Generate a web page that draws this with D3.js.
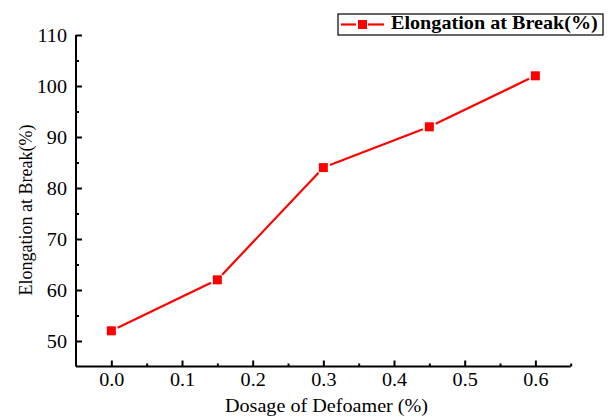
<!DOCTYPE html>
<html lang="en">
<head>
<meta charset="UTF-8">
<title>Elongation at Break</title>
<script src="https://d3js.org/d3.v7.min.js"></script>
<style>
    body { margin: 0; background: #fff; }
</style>
</head>
<body>
<div id="chart"></div>
<script>
    // data
    const dosage = [0.0, 0.15, 0.3, 0.45, 0.6];
    const elongation = [52, 62, 84, 92, 102];
    const seriesName = "Elongation at Break(%)";
    const xTicks = [0.0, 0.1, 0.2, 0.3, 0.4, 0.5, 0.6];
    const yTicks = [50, 60, 70, 80, 90, 100, 110];

    const W = 611, H = 417;
    const plotL = 76, plotR = 570.7, plotT = 35, plotB = 366.5;
    const FONT = "'Liberation Serif', 'Times New Roman', serif";
    const SX = 1.12; // the original text is a bit wide

    const svg = d3.select("#chart").append("svg")
        .attr("width", W).attr("height", H);

    const x = d3.scaleLinear().domain([-0.05, 0.65]).range([plotL, plotR]);
    const y = d3.scaleLinear().domain([45, 110]).range([plotB, plotT]);

    // x axis
    const xMinor = d3.range(0.05, 0.66, 0.1).map(v => +v.toFixed(2));
    svg.append("g")
        .attr("transform", `translate(0,${plotB})`)
        .call(d3.axisBottom(x).tickValues(xMinor).tickSize(-3).tickFormat(""))
        .call(g => g.select(".domain").remove());
    const gx = svg.append("g")
        .attr("transform", `translate(0,${plotB})`)
        .call(d3.axisBottom(x).tickValues(xTicks).tickSize(-6)
            .tickFormat(d3.format(".1f")));
    gx.select(".domain").attr("d", `M${plotL},0H${plotR}`);
    gx.selectAll("text")
        .attr("y", 20).attr("dy", null)
        .attr("transform", `scale(${SX},1)`);

    // y axis
    const yMinor = d3.range(55, 110, 10);
    svg.append("g")
        .attr("transform", `translate(${plotL},0)`)
        .call(d3.axisLeft(y).tickValues(yMinor).tickSize(-3).tickFormat(""))
        .call(g => g.select(".domain").remove());
    const gy = svg.append("g")
        .attr("transform", `translate(${plotL},0)`)
        .call(d3.axisLeft(y).tickValues(yTicks).tickSize(-6));
    gy.select(".domain").attr("d", `M0,${plotT}V${plotB}`);
    gy.selectAll("text")
        .attr("x", -9 / SX).attr("dy", "0.34em")
        .attr("transform", `scale(${SX},1)`);

    svg.selectAll(".domain, .tick line")
        .attr("stroke", "#000").attr("stroke-width", 2);

    // axis titles
    svg.append("text")
        .attr("x", 326.5 / SX).attr("y", 412)
        .attr("transform", `scale(${SX},1)`)
        .attr("text-anchor", "middle").attr("font-size", 18)
        .text("Dosage of Defoamer (%)");
    svg.append("text")
        .attr("transform", `translate(32,210) rotate(-90)`)
        .attr("text-anchor", "middle").attr("font-size", 18)
        .text("Elongation at Break(%)");

    // series: segments with small gaps around markers
    const pts = dosage.map((d, i) => [x(d), y(elongation[i])]);
    const gap = 7;
    for (let i = 0; i < pts.length - 1; i++) {
        const [x1, y1] = pts[i], [x2, y2] = pts[i + 1];
        const len = Math.hypot(x2 - x1, y2 - y1);
        const ux = (x2 - x1) / len, uy = (y2 - y1) / len;
        svg.append("line")
            .attr("x1", x1 + ux * gap).attr("y1", y1 + uy * gap)
            .attr("x2", x2 - ux * gap).attr("y2", y2 - uy * gap)
            .attr("stroke", "#ff0000").attr("stroke-width", 2.2);
    }
    svg.selectAll(".pt").data(pts).enter().append("rect")
        .attr("class", "pt")
        .attr("x", d => d[0] - 4.5).attr("y", d => d[1] - 4.5)
        .attr("width", 9).attr("height", 9)
        .attr("fill", "#ff0000");

    // legend
    const lg = svg.append("g");
    lg.append("rect")
        .attr("x", 338).attr("y", 14).attr("width", 265).attr("height", 21)
        .attr("fill", "#fff").attr("stroke", "#000").attr("stroke-width", 1.2);
    lg.append("line").attr("x1", 341).attr("x2", 356).attr("y1", 24.5).attr("y2", 24.5)
        .attr("stroke", "#ff0000").attr("stroke-width", 2.2);
    lg.append("line").attr("x1", 368).attr("x2", 384).attr("y1", 24.5).attr("y2", 24.5)
        .attr("stroke", "#ff0000").attr("stroke-width", 2.2);
    lg.append("rect").attr("x", 358).attr("y", 20).attr("width", 9).attr("height", 9)
        .attr("fill", "#ff0000");
    lg.append("text")
        .attr("x", 391 / SX).attr("y", 29.5)
        .attr("transform", `scale(${SX},1)`)
        .attr("font-size", 18).attr("font-weight", "bold")
        .text(seriesName);

    // all text in a Times-like face
    svg.selectAll("text")
        .attr("font-family", FONT).attr("fill", "#000");
    svg.selectAll(".tick text").attr("font-size", 18);
</script>
</body>
</html>
